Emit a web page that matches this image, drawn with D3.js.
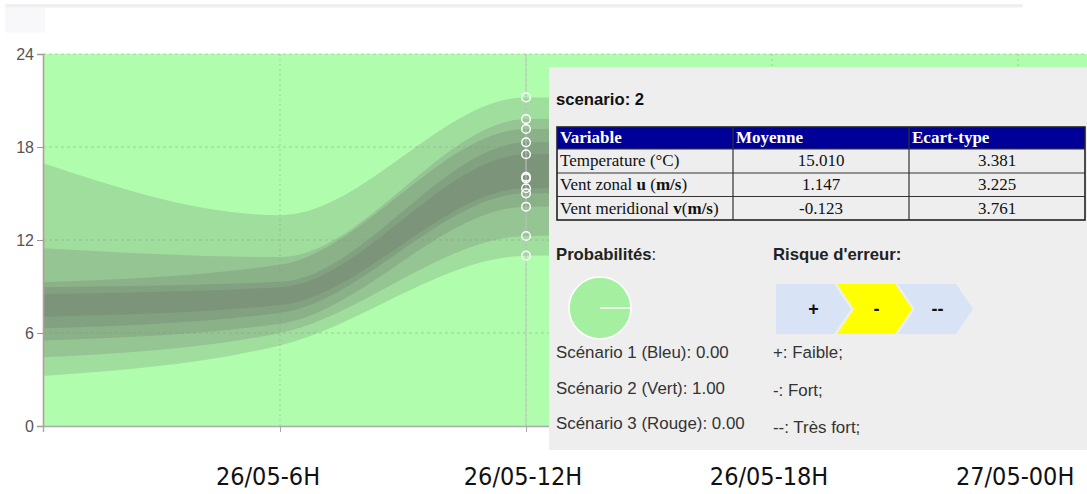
<!DOCTYPE html>
<html>
<head>
<meta charset="utf-8">
<script src="https://cdn.jsdelivr.net/npm/d3@7"></script>
<style>
  html, body { margin: 0; padding: 0; background: #fff; }
  svg { display: block; }
</style>
</head>
<body>
<svg id="chart" width="1087" height="494"></svg>
<script>
// Forecast hours counted from 26/05 00H
const hours = [0.22, 6, 12, 18];

// Temperature quantile bands, outermost first
const band1Low  = [3.23, 5.2, 10.99, 11.1];
const band1High = [16.95, 13.6, 21.2, 21.1];
const band2Low  = [4.43, 6.0, 12.26, 12.4];
const band2High = [11.46, 10.9, 19.8, 19.9];
const band3Low  = [5.51, 6.6, 14.15, 14.2];
const band3High = [9.27, 10.4, 19.16, 19.2];
const band4Low  = [6.30, 7.3, 15.01, 15.1];
const band4High = [8.95, 9.3, 18.3, 18.4];
const band5Low  = [7.05, 7.8, 15.34, 15.4];
const band5High = [8.52, 8.95, 17.53, 17.6];

// Values marked on the hover line at 26/05-12H
const hoverHour = 12;
const hoverValues = [21.2, 19.8, 19.16, 18.3, 17.53, 16.08, 15.98, 15.34, 15.01, 14.15, 12.26, 10.99];

const yTicks = [0, 6, 12, 18, 24];
const xTickHours = [6, 12, 18, 24];
const xTickLabels = ["26/05-6H", "26/05-12H", "26/05-18H", "27/05-00H"];

// Tooltip contents
const scenarioTitle = "scenario: 2";
const tableHeader = ["Variable", "Moyenne", "Ecart-type"];
const tableVariables = [
  [["Temperature (°C)", false]],
  [["Vent zonal ", false], ["u", true], [" (", false], ["m/s", true], [")", false]],
  [["Vent meridional ", false], ["v", true], ["(", false], ["m/s", true], [")", false]]
];
const tableMeans = ["15.010", "1.147", "-0.123"];
const tableStd = ["3.381", "3.225", "3.761"];

const scenarioNames = ["Scénario 1 (Bleu)", "Scénario 2 (Vert)", "Scénario 3 (Rouge)"];
const scenarioProb = [0.00, 1.00, 0.00];
const scenarioColors = ["#a8c8ff", "#a4f0a0", "#ffa8a8"];

const riskLevels = ["+", "-", "--"];
const riskLabels = ["+: Faible;", "-: Fort;", "--: Très fort;"];
const activeRisk = 1;

const svg = d3.select("#chart");
const W = 1087;

const plot = { left: 43, right: 1087, top: 54, bottom: 426 };
const x = d3.scaleLinear().domain([0.22, 25.68]).range([plot.left, plot.right]);
const y = d3.scaleLinear().domain([0, 24]).range([plot.bottom, plot.top]);

// page header strip
svg.append("rect").attr("x", 5).attr("y", 4).attr("width", 1018).attr("height", 3.5)
  .attr("rx", 1.5).attr("fill", "#efefef");
svg.append("rect").attr("x", 5).attr("y", 7.5).attr("width", 40).attr("height", 25)
  .attr("fill", "#f8f8fa");

// scenario background
svg.append("rect")
  .attr("x", plot.left).attr("y", plot.top)
  .attr("width", plot.right - plot.left).attr("height", plot.bottom - plot.top)
  .attr("fill", "#affdad");

// bands
const bands = [
  [band1Low, band1High], [band2Low, band2High], [band3Low, band3High],
  [band4Low, band4High], [band5Low, band5High]
];
const area = d3.area()
  .x(d => x(d.h)).y0(d => y(d.lo)).y1(d => y(d.hi))
  .curve(d3.curveMonotoneX);
svg.append("g").selectAll("path")
  .data(bands.map(([lo, hi]) => hours.map((h, i) => ({ h, lo: lo[i], hi: hi[i] }))))
  .join("path")
  .attr("d", area)
  .attr("fill", "rgb(100,100,100)")
  .attr("fill-opacity", 0.2);

// grid
const grid = svg.append("g");
grid.selectAll("line.h").data(yTicks.filter(t => t > 0)).join("line")
  .attr("x1", plot.left).attr("x2", plot.right)
  .attr("y1", d => y(d)).attr("y2", d => y(d))
  .attr("stroke", "#8f8f8f").attr("stroke-opacity", 0.45)
  .attr("stroke-dasharray", "3,3");
grid.selectAll("line.v").data(xTickHours).join("line")
  .attr("x1", d => x(d)).attr("x2", d => x(d))
  .attr("y1", plot.top).attr("y2", plot.bottom)
  .attr("stroke", "#8f8f8f").attr("stroke-opacity", 0.4)
  .attr("stroke-dasharray", "2,3");

// y axis
const yAxis = svg.append("g").attr("transform", `translate(${plot.left},0)`)
  .call(d3.axisLeft(y).tickValues(yTicks).tickSize(6).tickPadding(3).tickFormat(d3.format("d")));
yAxis.select(".domain").attr("stroke", "#b79c9c").attr("stroke-width", 1.6);
yAxis.selectAll(".tick line").attr("stroke", "#999");
yAxis.selectAll(".tick text").attr("fill", "#555")
  .style("font", "16px 'Liberation Sans', Arial, sans-serif");

// x axis (ticks only)
const xAxis = svg.append("g").attr("transform", `translate(0,${plot.bottom})`)
  .call(d3.axisBottom(x).tickValues(xTickHours).tickSize(6).tickFormat(""));
xAxis.select(".domain").attr("stroke", "#aaa").attr("stroke-width", 1.5);
xAxis.selectAll(".tick line").attr("stroke", "#aaa");

// hover line and markers
svg.append("line")
  .attr("x1", x(hoverHour)).attr("x2", x(hoverHour))
  .attr("y1", plot.top).attr("y2", plot.bottom)
  .attr("stroke", "#c4c4c4").attr("stroke-width", 1);
svg.append("g").selectAll("circle").data(hoverValues).join("circle")
  .attr("cx", x(hoverHour)).attr("cy", d => y(d)).attr("r", 4.3)
  .attr("fill", "none").attr("stroke", "#fff").attr("stroke-width", 1.5);

// x tick labels
svg.append("g").selectAll("text").data(xTickHours).join("text")
  .attr("x", (d, i) => x(d) - (i === 0 ? 12 : 3))
  .attr("y", 485)
  .attr("text-anchor", "middle")
  .attr("fill", "#111")
  .style("font", "25px 'Liberation Sans Narrow', 'DejaVu Sans Condensed', sans-serif")
  .style("font-stretch", "condensed")
  .text((d, i) => xTickLabels[i]);

// tooltip panel
const tip = svg.append("g");
const tipX = 549, tipY = 67;
tip.append("rect").attr("x", tipX).attr("y", tipY)
  .attr("width", W - tipX).attr("height", 383).attr("fill", "#eeeeee");

const sans = "'Liberation Sans', Arial, sans-serif";
const serif = "'Liberation Serif', 'Times New Roman', serif";

tip.append("text").attr("x", 556).attr("y", 105)
  .attr("fill", "#111").style("font", `bold 16.7px ${sans}`).text(scenarioTitle);

// statistics table
const colX = [557, 733, 909, 1085];
const rowY = [127, 149, 173, 196.5, 220];
const table = tip.append("g");
table.append("rect").attr("x", colX[0]).attr("y", rowY[0])
  .attr("width", colX[3] - colX[0]).attr("height", rowY[1] - rowY[0]).attr("fill", "#000099");
rowY.slice(1, 4).forEach(ry => {
  table.append("line").attr("x1", colX[0]).attr("x2", colX[3]).attr("y1", ry).attr("y2", ry)
    .attr("stroke", "#333").attr("stroke-width", 1.2);
});
colX.slice(1, 3).forEach(cx => {
  table.append("line").attr("x1", cx).attr("x2", cx).attr("y1", rowY[0]).attr("y2", rowY[4])
    .attr("stroke", "#333").attr("stroke-width", 1.2);
});
table.append("rect").attr("x", colX[0]).attr("y", rowY[0])
  .attr("width", colX[3] - colX[0]).attr("height", rowY[4] - rowY[0])
  .attr("fill", "none").attr("stroke", "#222").attr("stroke-width", 1.6);

tableHeader.forEach((h, i) => {
  table.append("text").attr("x", colX[i] + 3).attr("y", rowY[0] + 16)
    .attr("fill", "#fff").style("font", `bold 17px ${serif}`).text(h);
});
tableVariables.forEach((segs, r) => {
  const t = table.append("text").attr("x", colX[0] + 3).attr("y", rowY[r + 1] + 17)
    .attr("fill", "#111").style("font", `17px ${serif}`);
  segs.forEach(([s, b]) => t.append("tspan").style("font-weight", b ? "bold" : "normal").text(s));
});
[tableMeans, tableStd].forEach((col, c) => {
  col.forEach((v, r) => {
    table.append("text").attr("x", (colX[c + 1] + colX[c + 2]) / 2).attr("y", rowY[r + 1] + 17)
      .attr("text-anchor", "middle").attr("fill", "#111")
      .style("font", `17px ${serif}`).text(v);
  });
});

// probabilities
const probTitle = tip.append("text").attr("x", 556).attr("y", 260)
  .attr("fill", "#222").style("font", `16.7px ${sans}`);
probTitle.append("tspan").style("font-weight", "bold").text("Probabilités");
probTitle.append("tspan").text(":");

const pie = d3.pie().sort(null).startAngle(Math.PI / 2).endAngle(Math.PI / 2 + 2 * Math.PI);
const arc = d3.arc().innerRadius(0).outerRadius(31);
tip.append("g").attr("transform", "translate(600,308)")
  .selectAll("path").data(pie(scenarioProb)).join("path")
  .attr("d", arc)
  .attr("fill", (d, i) => scenarioColors[i])
  .attr("stroke", "#fff").attr("stroke-width", 1.6);

scenarioNames.forEach((n, i) => {
  tip.append("text").attr("x", 556).attr("y", 358 + i * 35.5)
    .attr("fill", "#333").style("font", `16.9px ${sans}`)
    .text(`${n}: ${d3.format(".2f")(scenarioProb[i])}`);
});

// risk of error
tip.append("text").attr("x", 773).attr("y", 260)
  .attr("fill", "#222").style("font", `bold 16.7px ${sans}`).text("Risque d'erreur:");

const chevTop = 284, chevH = 50, chevBody = 58, chevTipW = 17, chevStep = 61, chevLeft = 776;
const chevPath = i => {
  const x0 = chevLeft + i * chevStep, x1 = x0 + chevBody, ym = chevTop + chevH / 2, yb = chevTop + chevH;
  const notch = i === 0 ? `L${x0},${yb}` : `L${x0},${yb} L${x0 + chevTipW},${ym}`;
  return `M${x0},${chevTop} L${x1},${chevTop} L${x1 + chevTipW},${ym} L${x1},${yb} ${notch} Z`;
};
const chev = tip.append("g").selectAll("g").data(riskLevels).join("g");
chev.append("path").attr("d", (d, i) => chevPath(i))
  .attr("fill", (d, i) => i === activeRisk ? "#ffff00" : "#d8e3f6");
chev.append("text")
  .attr("x", (d, i) => chevLeft + i * chevStep + (chevBody + chevTipW) / 2 + (i === 0 ? 0 : 2))
  .attr("y", chevTop + chevH / 2 + 6)
  .attr("text-anchor", "middle").attr("fill", "#111")
  .style("font", `bold 18px ${sans}`).text(d => d);

riskLabels.forEach((l, i) => {
  tip.append("text").attr("x", 773).attr("y", 358 + i * 37.5)
    .attr("fill", "#333").style("font", `16.9px ${sans}`).text(l);
});
</script>
</body>
</html>
